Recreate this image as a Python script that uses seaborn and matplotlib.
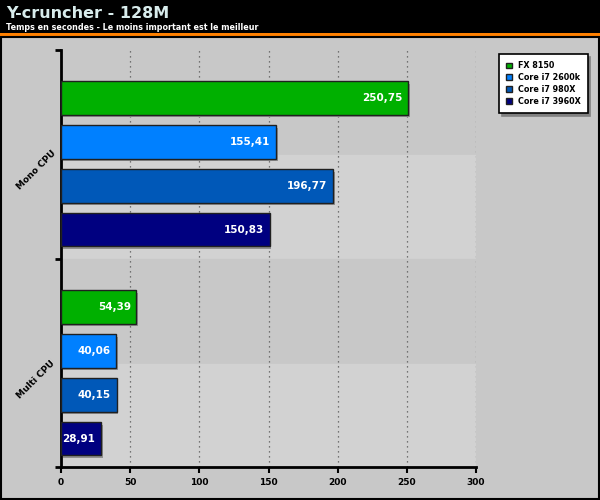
import pandas as pd
import matplotlib
matplotlib.use('Agg')
import matplotlib.pyplot as plt
import seaborn as sns

# Data
groups = ['Mono CPU', 'Multi CPU']
cpus = ['FX 8150', 'Core i7 2600k', 'Core i7 980X', 'Core i7 3960X']
mono = [250.75, 155.41, 196.77, 150.83]
multi = [54.39, 40.06, 40.15, 28.91]
colors = ['#00b000', '#0080ff', '#0058b8', '#000080']

df = pd.DataFrame({
    'groupe': [groups[0]] * 4 + [groups[1]] * 4,
    'cpu': cpus * 2,
    'temps': mono + multi,
})

fig = plt.figure(figsize=(6, 5), dpi=100)
fig.patch.set_facecolor('#c8c8c8')

# Header band
fig.patches.append(plt.Rectangle((0, 1 - 33 / 500), 1, 33 / 500, transform=fig.transFigure,
                                 facecolor='black', edgecolor='none', zorder=0))
fig.patches.append(plt.Rectangle((0, 1 - 37 / 500), 1, 4 / 500, transform=fig.transFigure,
                                 facecolor='#ff8000', edgecolor='none', zorder=0))
fig.patches.append(plt.Rectangle((0.002, 0.002), 0.996, 1 - 37 / 500 - 0.002, transform=fig.transFigure,
                                 facecolor='none', edgecolor='black', lw=1.5, zorder=0))
fig.text(6 / 600, 1 - 14 / 500, 'Y-cruncher - 128M', color='#d8ecec', fontsize=11.5,
         fontweight='bold', va='center')
fig.text(6 / 600, 1 - 27 / 500, 'Temps en secondes - Le moins important est le meilleur',
         color='white', fontsize=5.8, fontweight='bold', va='center')

ax = fig.add_axes([61 / 600, 33 / 500, 415 / 600, 417 / 500])
ax.set_facecolor('#cbcbcb')

# alternating background bands
for i, y0 in enumerate([-0.545, -0.045, 0.455, 0.955]):
    ax.axhspan(y0, y0 + 0.5, color='#d2d2d2' if i % 2 else '#c8c8c8', zorder=0)

sns.barplot(data=df, y='groupe', x='temps', hue='cpu', palette=colors, orient='h',
            width=0.84, gap=0.24, saturation=1, edgecolor='#202020', linewidth=1, ax=ax,
            legend=True, zorder=3)

for cont in ax.containers:
    for bar in cont:
        w = bar.get_width()
        ax.text(w - 4, bar.get_y() + bar.get_height() / 2, f'{w:.2f}'.replace('.', ','),
                color='white', fontsize=7.5, fontweight='bold', ha='right', va='center', zorder=5)
        # drop shadow
        ax.add_patch(plt.Rectangle((bar.get_x() + 1.2, bar.get_y() + 0.012), w, bar.get_height(),
                                   facecolor='#909090', edgecolor='none', zorder=2))

ax.set_xlim(0, 300)
ax.set_ylim(1.45, -0.545)
ax.set_xticks([0, 50, 100, 150, 200, 250, 300])
ax.set_xticklabels(['0', '50', '100', '150', '200', '250', '300'], fontsize=6.5, fontweight='bold')
ax.set_yticks([-0.545, 0.455, 1.45])
ax.set_yticklabels([])
ax.tick_params(axis='y', length=4, width=2, direction='out')
ax.tick_params(axis='x', length=4, width=1.5, direction='out', pad=4)
ax.grid(axis='x', color='#555555', linestyle=(0, (1, 3)), lw=0.9, zorder=1)
ax.set_axisbelow(True)
ax.set_xlabel('')
ax.set_ylabel('')
for s in ['top', 'right']:
    ax.spines[s].set_visible(False)
ax.spines['left'].set_linewidth(2)
ax.spines['bottom'].set_linewidth(2)

for i, g in enumerate(groups):
    ax.text(-18, i + 0.03, g, rotation=45, fontsize=6.5, fontweight='bold',
            ha='center', va='center', clip_on=False)

leg = ax.legend(loc='upper left', bbox_to_anchor=(434 / 415, 1.0), frameon=True, fancybox=False,
                fontsize=5.8, handlelength=0.7, handleheight=0.7, borderpad=0.9, labelspacing=0.35,
                handletextpad=0.7, shadow={'color': '#808080', 'alpha': 1})
leg.get_frame().set_edgecolor('black')
leg.get_frame().set_linewidth(1.2)
for t in leg.get_texts():
    t.set_fontweight('bold')

fig.savefig('out.png', dpi=100, facecolor=fig.get_facecolor())
